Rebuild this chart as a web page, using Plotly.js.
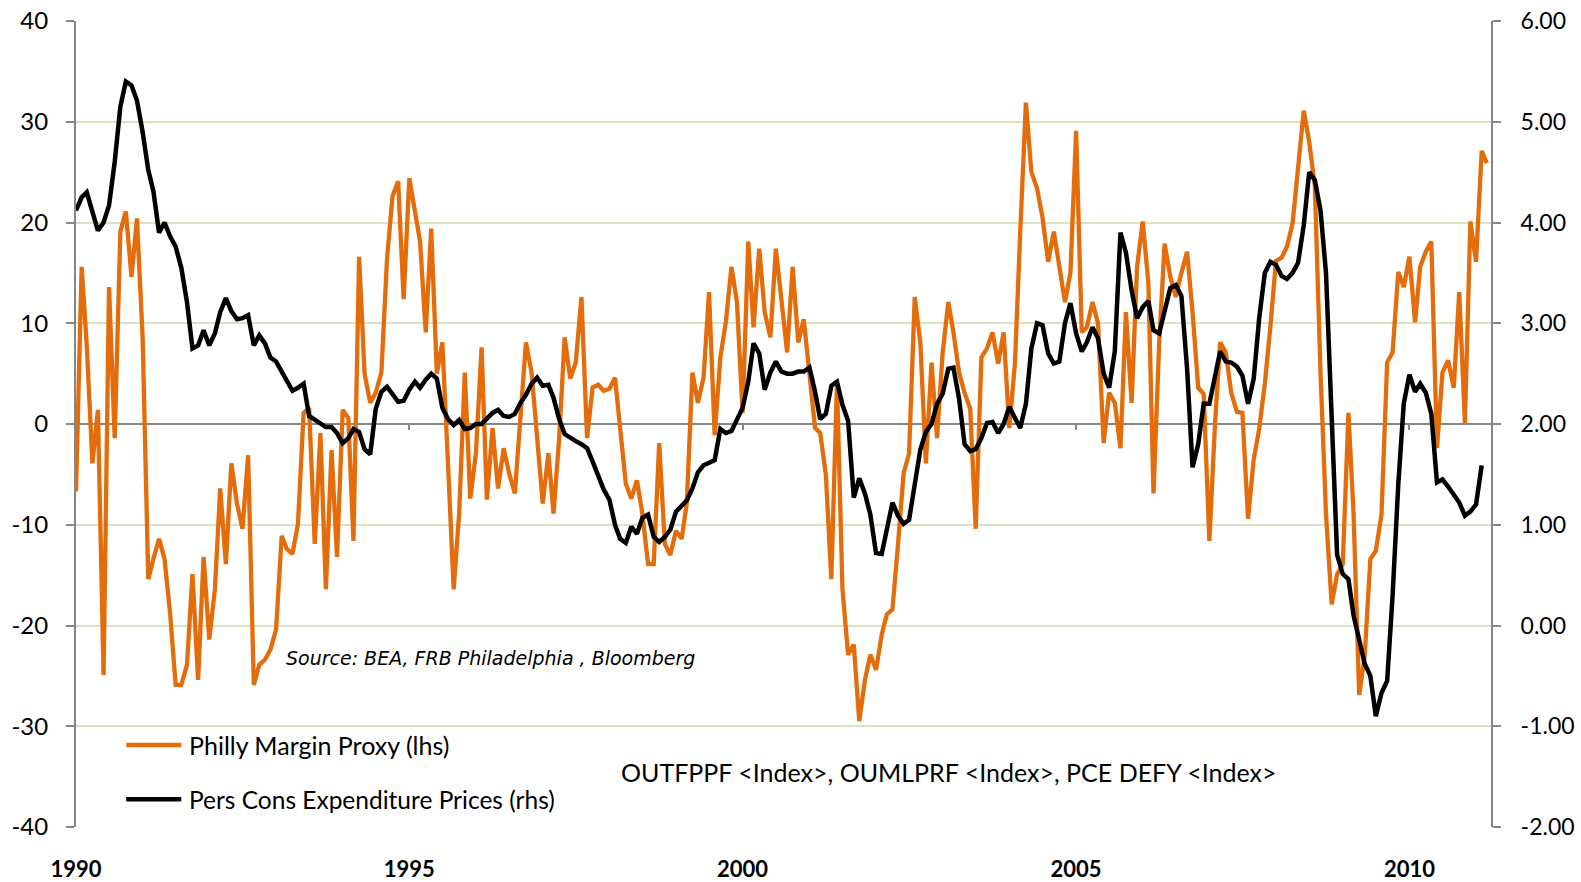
<!DOCTYPE html>
<html>
<head>
<meta charset="utf-8">
<script src="https://cdn.plot.ly/plotly-3.0.1.min.js"></script>
<style>
  html, body { margin: 0; padding: 0; background: #ffffff; }
  #chart { width: 1581px; height: 882px; }
</style>
</head>
<body>
<div id="chart"></div>
<script>
// Monthly series, starting January 1990
const startYear = 1990;

// Philly Fed margin proxy (left axis)
const marginProxy = [
  -6.7, 15.6, 7.8, -3.9, 1.4, -24.9, 13.6, -1.4, 19.1, 21.1, 14.6, 20.4,
  8.6, -15.4, -13.4, -11.4, -13.4, -18.9, -25.9, -25.9, -23.9, -14.9, -25.4, -13.2,
  -21.4, -16.4, -6.4, -13.9, -3.9, -7.9, -10.4, -3.1, -25.9, -23.9, -23.4, -22.4,
  -20.4, -11.1, -12.4, -12.9, -9.9, 1.1, 1.6, -11.9, -0.9, -16.4, -2.6, -13.2,
  1.4, 0.6, -11.6, 16.6, 5.0, 2.1, 3.1, 5.1, 16.4, 22.6, 24.1, 12.4,
  24.4, 21.1, 18.1, 9.1, 19.4, 5.0, 8.1, -3.9, -16.4, -8.9, 5.1, -7.4,
  -2.9, 7.6, -7.5, -0.4, -6.4, -2.4, -4.9, -6.9, 0.1, 8.1, 5.1, -1.4,
  -7.9, -2.9, -8.9, -1.4, 8.6, 4.5, 6.1, 12.6, -1.4, 3.6, 3.9, 3.3,
  3.5, 4.6, -0.6, -5.9, -7.4, -5.6, -8.9, -13.9, -13.9, -1.9, -11.9, -13.0,
  -10.6, -11.4, -7.9, 5.1, 2.1, 4.6, 13.1, -1.1, 6.6, 10.1, 15.6, 12.1,
  1.1, 18.1, 9.6, 17.4, 11.1, 8.6, 17.4, 12.1, 7.1, 15.6, 8.1, 10.4,
  5.0, -0.4, -0.9, -5.0, -15.4, 4.1, -16.4, -22.9, -21.9, -29.5, -25.4, -22.9,
  -24.4, -20.9, -18.9, -18.4, -12.0, -4.9, -2.9, 12.6, 8.0, -3.9, 6.1, -1.4,
  7.1, 12.1, 9.1, 5.1, 3.1, 1.5, -10.4, 6.6, 7.5, 9.1, 6.0, 9.1,
  -0.4, 6.0, 19.1, 31.9, 25.0, 23.4, 20.5, 16.1, 19.1, 15.6, 12.1, 15.0,
  29.1, 9.1, 9.6, 12.1, 10.0, -1.9, 3.1, 2.1, -2.4, 11.1, 2.1, 15.6,
  20.1, 14.0, -6.9, 8.0, 17.9, 14.6, 12.6, 15.0, 17.1, 11.1, 3.6, 3.0,
  -11.6, 0.0, 8.1, 7.1, 3.1, 1.2, 1.1, -9.4, -3.5, -0.5, 4.0, 9.6,
  16.2, 16.5, 17.6, 19.9, 25.0, 31.1, 28.0, 23.6, 5.1, -8.9, -17.9, -14.9,
  -13.9, 1.1, -8.9, -26.9, -23.0, -13.4, -12.6, -9.0, 6.1, 7.1, 15.1, 13.6,
  16.6, 10.1, 15.6, 17.1, 18.1, -2.4, 5.1, 6.3, 3.6, 13.1, 0.1, 20.1,
  16.1, 27.1, 25.9
];

// Personal consumption expenditure prices, % y/y (right axis)
const pcePrices = [
  4.12, 4.25, 4.30, 4.10, 3.92, 4.00, 4.17, 4.60, 5.15, 5.40, 5.36, 5.21,
  4.90, 4.52, 4.31, 3.90, 4.00, 3.86, 3.76, 3.55, 3.21, 2.75, 2.78, 2.93,
  2.78, 2.90, 3.11, 3.25, 3.12, 3.04, 3.05, 3.08, 2.78, 2.88, 2.80, 2.66,
  2.62, 2.52, 2.42, 2.33, 2.36, 2.40, 2.08, 2.04, 2.00, 1.97, 1.97, 1.91,
  1.81, 1.86, 1.95, 1.92, 1.75, 1.70, 2.15, 2.32, 2.37, 2.30, 2.22, 2.23,
  2.34, 2.42, 2.36, 2.44, 2.50, 2.45, 2.16, 2.05, 1.99, 2.04, 1.95, 1.96,
  2.00, 2.00, 2.06, 2.11, 2.14, 2.08, 2.07, 2.10, 2.21, 2.29, 2.40, 2.46,
  2.38, 2.39, 2.26, 2.05, 1.90, 1.86, 1.83, 1.80, 1.76, 1.63, 1.50, 1.35,
  1.25, 1.00, 0.86, 0.82, 0.98, 0.91, 1.07, 1.10, 0.88, 0.83, 0.88, 0.95,
  1.13, 1.19, 1.24, 1.36, 1.52, 1.59, 1.61, 1.64, 1.95, 1.91, 1.93, 2.05,
  2.16, 2.42, 2.80, 2.70, 2.34, 2.51, 2.62, 2.52, 2.50, 2.50, 2.52, 2.52,
  2.56, 2.32, 2.05, 2.10, 2.38, 2.42, 2.19, 2.03, 1.27, 1.46, 1.31, 1.10,
  0.72, 0.71, 0.95, 1.22, 1.09, 1.01, 1.05, 1.40, 1.75, 1.92, 2.00, 2.20,
  2.30, 2.55, 2.56, 2.25, 1.80, 1.73, 1.75, 1.86, 2.01, 2.02, 1.91, 2.00,
  2.17, 2.06, 1.96, 2.20, 2.75, 3.00, 2.98, 2.70, 2.60, 2.62, 3.00, 3.20,
  2.90, 2.72, 2.81, 2.96, 2.85, 2.50, 2.36, 2.72, 3.90, 3.70, 3.33, 3.05,
  3.16, 3.22, 2.93, 2.90, 3.12, 3.35, 3.38, 3.27, 2.55, 1.57, 1.80, 2.20,
  2.20, 2.45, 2.72, 2.62, 2.61, 2.57, 2.48, 2.20, 2.45, 3.05, 3.50, 3.61,
  3.58, 3.47, 3.44, 3.50, 3.60, 3.97, 4.50, 4.42, 4.12, 3.50, 2.10, 0.70,
  0.51, 0.46, 0.10, -0.16, -0.38, -0.50, -0.90, -0.67, -0.55, 0.30, 1.40, 2.20,
  2.49, 2.32, 2.40, 2.31, 2.10, 1.42, 1.45, 1.38, 1.30, 1.22, 1.09, 1.13,
  1.20, 1.59
];

// Axis ticks and labels
const yearTickDates = ['1990-01-01', '1995-01-01', '2000-01-01', '2005-01-01', '2010-01-01'];
const yearTickLabels = ['1990', '1995', '2000', '2005', '2010'];
const lhsTicks = [-40, -30, -20, -10, 0, 10, 20, 30, 40];
const lhsLabels = ['-40', '-30', '-20', '-10', '0', '10', '20', '30', '40'];
const rhsTicks = [-2, -1, 0, 1, 2, 3, 4, 5, 6];
const rhsLabels = ['-2.00', '-1.00', '0.00', '1.00', '2.00', '3.00', '4.00', '5.00', '6.00'];

const seriesNames = ['Philly Margin Proxy (lhs)', 'Pers Cons Expenditure Prices (rhs)'];
const sourceNote = 'Source: BEA, FRB Philadelphia , Bloomberg';
const tickerNote = 'OUTFPPF <Index>, OUMLPRF <Index>, PCE DEFY <Index>';

function monthDate(i) {
  const y = startYear + Math.floor(i / 12);
  const m = (i % 12) + 1;
  return y + '-' + String(m).padStart(2, '0') + '-01';
}
const marginDates = marginProxy.map((_, i) => monthDate(i));
const pceDates = pcePrices.map((_, i) => monthDate(i));

const ORANGE = '#E46C0A';
const GRID = '#D7E4BD';
const AXIS = '#868686';
const FONT = 'Lato, "Liberation Sans", Arial, sans-serif';

const traces = [
  {
    x: marginDates, y: marginProxy, name: seriesNames[0],
    type: 'scatter', mode: 'lines', xaxis: 'x', yaxis: 'y',
    line: { color: ORANGE, width: 4.3, shape: 'linear' },
    hoverinfo: 'skip'
  },
  {
    x: pceDates, y: pcePrices, name: seriesNames[1],
    type: 'scatter', mode: 'lines', xaxis: 'x', yaxis: 'y2',
    line: { color: '#000000', width: 4.5, shape: 'linear' },
    hoverinfo: 'skip'
  },
  // empty trace that keeps the tick-only axis on the zero line alive
  { x: [], y: [], xaxis: 'x2', yaxis: 'y', type: 'scatter', mode: 'lines', showlegend: false, hoverinfo: 'skip' }
];

const xRange = ['1990-01-01', '2011-03-24'];

const legendY = [0.1016, 0.0345];
const legendColors = [ORANGE, '#000000'];
const shapes = legendY.map((yy, i) => ({
  type: 'line', xref: 'paper', yref: 'paper',
  x0: 0.0355, x1: 0.0744, y0: yy, y1: yy,
  line: { color: legendColors[i], width: 4.5 }
}));

const annotations = [
  {
    xref: 'paper', yref: 'paper', x: 0.0786, y: legendY[0],
    xanchor: 'left', yanchor: 'middle', showarrow: false,
    text: seriesNames[0], font: { family: FONT, size: 25, color: '#000000' }
  },
  {
    xref: 'paper', yref: 'paper', x: 0.0786, y: legendY[1],
    xanchor: 'left', yanchor: 'middle', showarrow: false,
    text: seriesNames[1], font: { family: FONT, size: 24.5, color: '#000000' }
  },
  {
    xref: 'paper', yref: 'paper', x: 0.1472, y: 0.2096,
    xanchor: 'left', yanchor: 'middle', showarrow: false,
    text: '<i>' + sourceNote + '</i>',
    font: { family: '"DejaVu Sans", "Open Sans", sans-serif', size: 19, color: '#000000' }
  },
  {
    xref: 'paper', yref: 'paper', x: 0.3839, y: 0.068,
    xanchor: 'left', yanchor: 'middle', showarrow: false,
    text: tickerNote, font: { family: FONT, size: 25, color: '#000000' }
  }
];

const layout = {
  width: 1581, height: 882,
  margin: { l: 76, r: 90, t: 21, b: 55, pad: 0 },
  paper_bgcolor: '#ffffff', plot_bgcolor: '#ffffff',
  showlegend: false,
  font: { family: FONT, color: '#000000' },
  xaxis: {
    type: 'date', range: xRange,
    tickmode: 'array', tickvals: yearTickDates, ticktext: yearTickLabels,
    ticks: '', showgrid: false, zeroline: false, showline: false,
    ticklabelstandoff: 27,
    tickfont: { family: FONT, size: 22, color: '#000000', weight: 'bold' }
  },
  xaxis2: {
    type: 'date', range: xRange, overlaying: 'x', anchor: 'free', position: 0.5,
    tickmode: 'array', tickvals: yearTickDates,
    ticks: 'outside', ticklen: 5, tickwidth: 2, tickcolor: AXIS,
    showticklabels: false, showgrid: false, zeroline: false, showline: false
  },
  yaxis: {
    range: [-40, 40], tickmode: 'array', tickvals: lhsTicks, ticktext: lhsLabels,
    showgrid: true, gridcolor: GRID, gridwidth: 2,
    zeroline: true, zerolinecolor: AXIS, zerolinewidth: 2,
    showline: true, linecolor: AXIS, linewidth: 2,
    ticks: 'outside', ticklen: 8, tickwidth: 2, tickcolor: AXIS,
    ticklabelstandoff: 13,
    tickfont: { family: FONT, size: 24, color: '#000000' }
  },
  yaxis2: {
    range: [-2, 6], overlaying: 'y', side: 'right', anchor: 'x',
    tickmode: 'array', tickvals: rhsTicks, ticktext: rhsLabels,
    showgrid: false, zeroline: false,
    showline: true, linecolor: AXIS, linewidth: 2,
    ticks: 'outside', ticklen: 8, tickwidth: 2, tickcolor: AXIS,
    ticklabelstandoff: 15,
    tickfont: { family: FONT, size: 23, color: '#000000' }
  },
  shapes: shapes,
  annotations: annotations
};

Plotly.newPlot('chart', traces, layout, { displayModeBar: false, staticPlot: true });
</script>
</body>
</html>
